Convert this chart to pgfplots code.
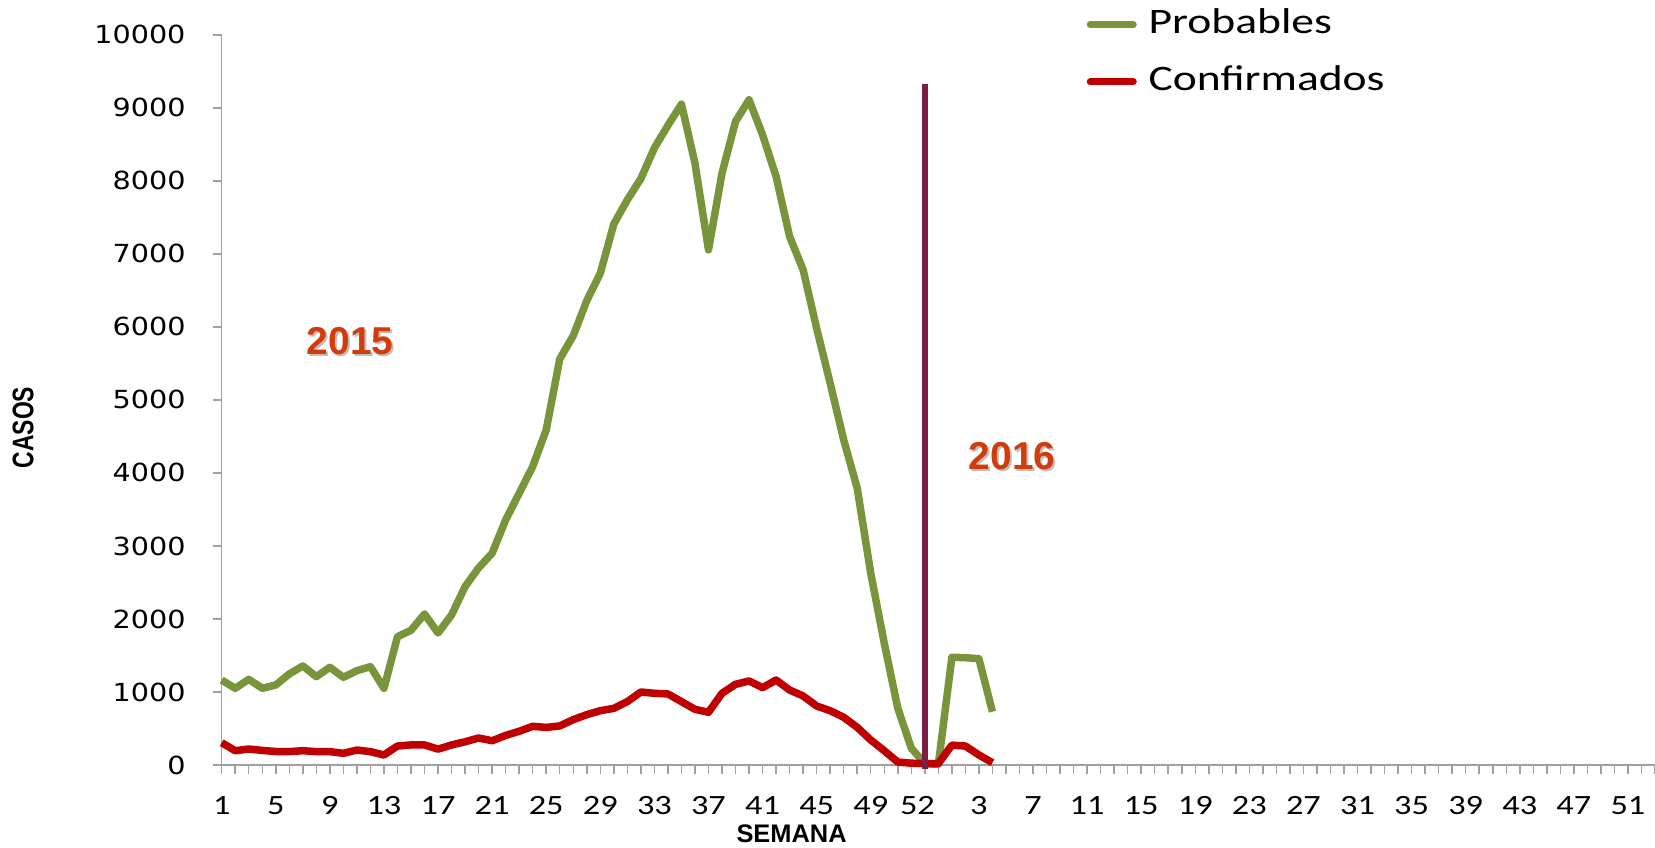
\documentclass[border=0pt]{standalone}
\usepackage{fontspec}
\usepackage{pgfplots}
\pgfplotsset{compat=1.18}
\setmainfont{Liberation Sans}
\newfontfamily\calib[FakeStretch=1.23]{Carlito}
\newfontfamily\legf[FakeStretch=1.27]{Carlito}
\newfontfamily\yfont[FakeStretch=1.15]{DejaVu Sans}
\definecolor{probgreen}{HTML}{78953C}
\definecolor{confred}{HTML}{C00000}
\definecolor{yearline}{HTML}{7A1E46}
\definecolor{yeartext}{HTML}{D23C0A}
\definecolor{axisgray}{HTML}{A0A0A0}

% semana: 1-52 (2015), 53 = marca "52", 55.. = 2016
\pgfplotstableread{
pos prob conf
1 1164 306
2 1050 196
3 1174 219
4 1050 200
5 1096 185
6 1247 183
7 1356 196
8 1210 183
9 1338 183
10 1201 160
11 1292 205
12 1347 183
13 1050 137
14 1758 260
15 1845 275
16 2068 275
17 1808 217
18 2055 275
19 2443 318
20 2700 370
21 2900 332
22 3356 405
23 3721 462
24 4087 530
25 4589 515
26 5560 535
27 5880 621
28 6360 690
29 6735 744
30 7410 776
31 7740 868
32 8030 1000
33 8450 982
34 8760 973
35 9050 868
36 8242 763
37 7055 722
38 8105 982
39 8813 1105
40 9110 1151
41 8630 1059
42 8059 1164
43 7237 1027
44 6781 945
45 5980 808
46 5228 744
47 4452 653
48 3790 516
49 2626 342
50 1667 196
51 777 40
52 230 25
53 20 20
54 10 20
55 1475 272
56 1470 260
57 1455 137
58 730 32
}\datatab

\begin{document}
\begin{tikzpicture}
\begin{axis}[
    name=ax,
    scale only axis,
    width=1433.3bp, height=730.2bp,
    xmin=1, xmax=107,
    ymin=0, ymax=10000,
    axis lines*=left,
    axis line style={draw=axisgray, line width=1.5bp},
    tick style={draw=axisgray, line width=1.5bp},
    tick align=outside,
    major tick length=9bp, minor tick length=9bp,
    xtick={1,5,9,13,17,21,25,29,33,37,41,45,49,57,61,65,69,73,77,81,85,89,93,97,101,105},
    minor xtick={1,...,107},
    xticklabels={1,5,9,13,17,21,25,29,33,37,41,45,49,3,7,11,15,19,23,27,31,35,39,43,47,51},
    extra x ticks={52.45},
    extra x tick labels={52},
    extra x tick style={tick style={draw=none}},
    xticklabel style={font=\calib\fontsize{28}{28}\selectfont, inner sep=0pt, anchor=north, yshift=-22bp},
    ytick={0,1000,...,10000},
    scaled y ticks=false,
    /pgf/number format/1000 sep={},
    /pgf/number format/assume math mode=true,
    yticklabel style={font=\yfont\fontsize{25}{25}\selectfont, inner sep=0pt, anchor=east, xshift=-27bp},
    ylabel={\scalebox{1}[1.3]{\textbf{CASOS}}},
    ylabel style={font=\fontsize{23}{23}\selectfont, at={(axis description cs:-0.1386,0.4622)}, anchor=center},
    xlabel={\textbf{SEMANA}},
    xlabel style={font=\fontsize{25.5}{25.5}\selectfont, at={(axis description cs:0.3976,-0.0945)}, anchor=center},
    clip=false,
    legend style={at={(axis description cs:0.6034,1.0377)}, anchor=north west,
        draw=none, fill=none, inner sep=0pt, row sep=23.4bp, column sep=11.9bp,
        font=\legf\fontsize{36}{36}\selectfont,
        nodes={inner sep=0pt, text height=26bp, text depth=8bp}},
    legend cell align=left,
    legend image code/.code={\draw[#1, line width=7bp, line cap=round] (0bp,0bp) -- (43bp,0bp);},
]
\addplot[probgreen, line width=7.5bp, line join=round] table[x=pos, y=prob] {\datatab};
\addlegendentry{Probables}
\addplot[confred, line width=7.5bp, line join=round] table[x=pos, y=conf] {\datatab};
\addlegendentry{Confirmados}
\addplot[yearline, line width=6.5bp, forget plot] coordinates {(53,-50) (53,9320)};

\node[text=black!25, font=\bfseries\fontsize{39}{39}\selectfont, xshift=2bp, yshift=-2bp] at (axis cs:10.5,5807) {2015};
\node[text=yeartext, font=\bfseries\fontsize{39}{39}\selectfont] at (axis cs:10.5,5807) {2015};
\node[text=black!25, font=\bfseries\fontsize{39}{39}\selectfont, xshift=2bp, yshift=-2bp] at (axis cs:59.45,4232) {2016};
\node[text=yeartext, font=\bfseries\fontsize{39}{39}\selectfont] at (axis cs:59.45,4232) {2016};
\end{axis}
\pgfresetboundingbox
\path ([xshift=-221.7bp, yshift=-82bp]ax.south west) rectangle ([yshift=34.8bp]ax.north east);
\end{tikzpicture}
\end{document}
